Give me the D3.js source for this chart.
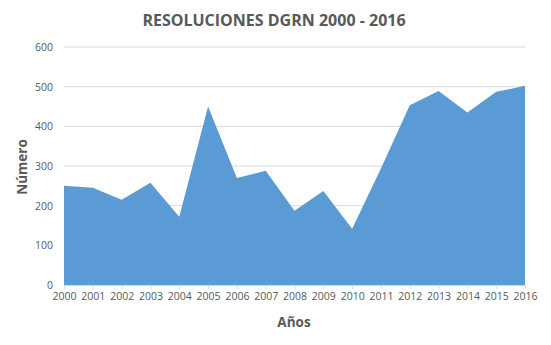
<html>
<head>
<script src="https://cdnjs.cloudflare.com/ajax/libs/d3/7.8.5/d3.min.js"></script>
<style>
  body { margin: 0; background: #fff; }
  text { font-family: "Open Sans", sans-serif; fill: #595959; }
</style>
</head>
<body>
<div id="chart"></div>
<script>
const years = [2000, 2001, 2002, 2003, 2004, 2005, 2006, 2007, 2008,
               2009, 2010, 2011, 2012, 2013, 2014, 2015, 2016];
const values = [250, 245, 215, 258, 172, 450, 270, 288, 187,
                237, 142, 294, 453, 489, 435, 487, 502];
const yTicks = [0, 100, 200, 300, 400, 500, 600];

const w = 551, h = 345;
const plotLeft = 64, plotRight = 525, plotTop = 47, plotBottom = 285;

const svg = d3.select("#chart").append("svg")
  .attr("width", w).attr("height", h);

const x = d3.scaleLinear().domain([2000, 2016]).range([plotLeft, plotRight]);
const y = d3.scaleLinear().domain([0, 600]).range([plotBottom, plotTop]);

// grid
svg.append("g").selectAll("line")
  .data(yTicks.slice(1))
  .enter().append("line")
  .attr("x1", plotLeft).attr("x2", plotRight)
  .attr("y1", d => y(d)).attr("y2", d => y(d))
  .attr("stroke", "#d9d9d9").attr("stroke-width", 1);

// area
const area = d3.area()
  .x((d, i) => x(years[i]))
  .y0(y(0))
  .y1(d => y(d));
svg.append("path")
  .datum(values)
  .attr("d", area)
  .attr("fill", "#5b9bd5");

// x axis
const xAxis = d3.axisBottom(x)
  .tickValues(years)
  .tickFormat(d3.format("d"))
  .tickSize(4)
  .tickPadding(4);
const gx = svg.append("g")
  .attr("transform", "translate(0," + plotBottom + ")")
  .call(xAxis);
gx.select(".domain").attr("stroke", "#d9d9d9");
gx.selectAll(".tick line").attr("stroke", "#d9d9d9");
gx.selectAll("text").attr("font-size", "10.5px");

// y axis
const yAxis = d3.axisLeft(y).tickValues(yTicks).tickSize(0).tickPadding(11);
const gy = svg.append("g")
  .attr("transform", "translate(" + plotLeft + ",0)")
  .call(yAxis);
gy.select(".domain").remove();
gy.selectAll("text").attr("font-size", "10.5px");

// titles
svg.append("text")
  .attr("x", 274).attr("y", 26)
  .attr("text-anchor", "middle")
  .attr("font-size", "16px").attr("font-weight", "bold")
  .text("RESOLUCIONES DGRN 2000 - 2016");

svg.append("text")
  .attr("x", 294).attr("y", 327)
  .attr("text-anchor", "middle")
  .attr("font-size", "13.5px").attr("font-weight", "bold")
  .text("Años");

svg.append("text")
  .attr("transform", "translate(27,167) rotate(-90)")
  .attr("text-anchor", "middle")
  .attr("font-size", "13.5px").attr("font-weight", "bold")
  .text("Número");
</script>
</body>
</html>
